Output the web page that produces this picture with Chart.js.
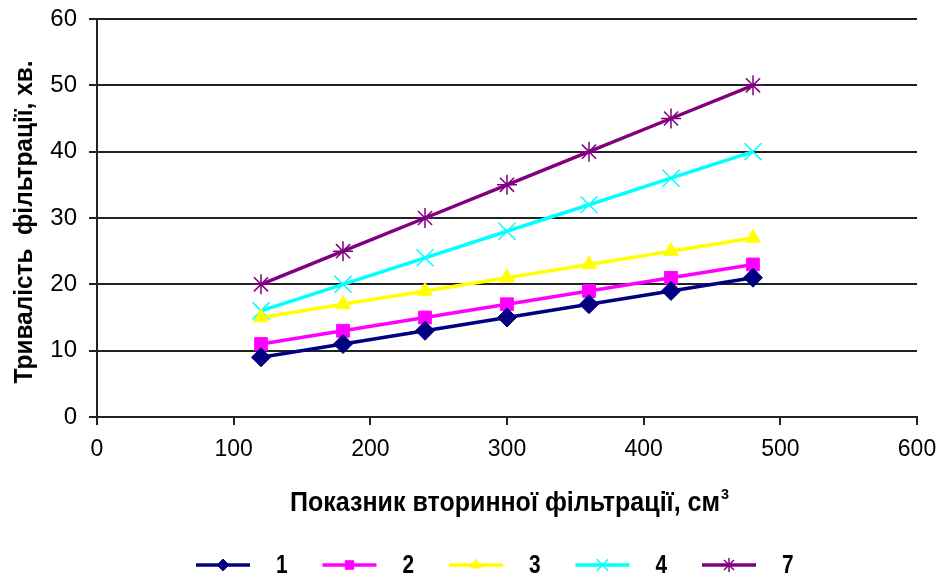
<!DOCTYPE html>
<html>
<head>
<meta charset="utf-8">
<script src="https://cdn.jsdelivr.net/npm/chart.js@4.4.1/dist/chart.umd.min.js"></script>
<style>
  html, body { margin: 0; padding: 0; background: #fff; }
  #wrap { width: 940px; height: 578px; position: relative; }
</style>
</head>
<body>
<div id="wrap"><canvas id="filterChart"></canvas></div>
<script>
// data
const xValues = [120, 180, 240, 300, 360, 420, 480];
const series1 = [9, 11, 13, 15, 17, 19, 21];
const series2 = [11, 13, 15, 17, 19, 21, 23];
const series3 = [15, 17, 19, 21, 23, 25, 27];
const series4 = [16, 20, 24, 28, 32, 36, 40];
const series7 = [20, 25, 30, 35, 40, 45, 50];
const seriesNames = ['1', '2', '3', '4', '7'];
const xTickValues = [0, 100, 200, 300, 400, 500, 600];
const yTickValues = [0, 10, 20, 30, 40, 50, 60];

const yTitle = 'Тривалість  фільтрації, хв.';
const xTitle = 'Показник вторинної фільтрації, см';

const styles = [
    { color: '#000080', point: 'rectRot', radius: 9.5, legendRadius: 6, bw: 1 },
    { color: '#FF00FF', point: 'rect', radius: 9, legendRadius: 6, bw: 1 },
    { color: '#FFFF00', point: 'triangle', radius: 8.5, legendRadius: 6, bw: 1 },
    { color: '#00FFFF', point: 'crossRot', radius: 12, legendRadius: 8, bw: 1.5 },
    { color: '#800080', point: 'star', radius: 10, legendRadius: 7, bw: 1.5 }
];

function toPoints(ys) {
    return xValues.map((x, i) => ({ x: x, y: ys[i] }));
}

const allSeries = [series1, series2, series3, series4, series7];

const datasets = allSeries.map((ys, i) => ({
    label: seriesNames[i],
    data: toPoints(ys),
    borderColor: styles[i].color,
    backgroundColor: styles[i].color,
    pointBackgroundColor: styles[i].color,
    pointBorderColor: styles[i].color,
    pointStyle: styles[i].point,
    pointRadius: styles[i].radius,
    pointBorderWidth: styles[i].bw,
    borderWidth: 3.5,
    tension: 0
}));

function drawFitted(ctx, text, width) {
    const w = ctx.measureText(text).width;
    ctx.scale(width / w, 1);
    ctx.fillText(text, 0, 0);
}

// axis titles and legend drawn by hand (legend needs line + marker)
const extrasPlugin = {
    id: 'extras',
    afterDraw(chart) {
        const ctx = chart.ctx;
        ctx.save();
        ctx.fillStyle = '#000';

        // y title
        ctx.save();
        ctx.font = 'bold 26px "Liberation Sans", Arial, sans-serif';
        ctx.textAlign = 'center';
        ctx.textBaseline = 'middle';
        ctx.translate(25, 222);
        ctx.rotate(-Math.PI / 2);
        drawFitted(ctx, yTitle, 323);
        ctx.restore();

        // x title with superscript
        ctx.save();
        ctx.font = 'bold 27px "Liberation Sans", Arial, sans-serif';
        ctx.textAlign = 'left';
        ctx.textBaseline = 'alphabetic';
        ctx.translate(290, 511);
        drawFitted(ctx, xTitle, 430);
        ctx.restore();
        ctx.save();
        ctx.font = 'bold 15px "Liberation Sans", Arial, sans-serif';
        ctx.textAlign = 'left';
        ctx.textBaseline = 'alphabetic';
        ctx.translate(721, 499);
        drawFitted(ctx, '3', 8);
        ctx.restore();

        // legend
        const legendY = 565;
        seriesNames.forEach((name, i) => {
            const x0 = 196 + i * 126.5;
            const st = styles[i];
            ctx.save();
            ctx.strokeStyle = st.color;
            ctx.lineWidth = 3.5;
            ctx.beginPath();
            ctx.moveTo(x0, legendY);
            ctx.lineTo(x0 + 54, legendY);
            ctx.stroke();
            ctx.fillStyle = st.color;
            ctx.lineWidth = st.bw;
            Chart.helpers.drawPoint(ctx, {
                pointStyle: st.point,
                radius: st.legendRadius,
                borderWidth: st.bw,
                rotation: 0
            }, x0 + 27, legendY);
            ctx.restore();

            ctx.save();
            ctx.fillStyle = '#000';
            ctx.font = 'bold 26px "Liberation Sans", Arial, sans-serif';
            ctx.textAlign = 'left';
            ctx.textBaseline = 'middle';
            ctx.translate(x0 + 80, legendY + 1);
            ctx.scale(0.8, 1);
            ctx.fillText(name, 0, 0);
            ctx.restore();
        });

        ctx.restore();
    }
};

const ctx = document.getElementById('filterChart').getContext('2d');
const filterChart = new Chart(ctx, {
    type: 'line',
    data: { datasets: datasets },
    plugins: [extrasPlugin],
    options: {
        responsive: true,
        maintainAspectRatio: false,
        animation: false,
        layout: { padding: { top: 19, right: 23, left: 0, bottom: 0 } },
        plugins: {
            legend: { display: false },
            tooltip: { enabled: false }
        },
        scales: {
            x: {
                type: 'linear',
                min: 0,
                max: 600,
                afterFit(scale) {
                    scale.height = 161;
                    scale.paddingLeft = 0;
                    scale.paddingRight = 0;
                },
                afterBuildTicks(scale) { scale.ticks = xTickValues.map(v => ({ value: v })); },
                ticks: {
                    color: '#000',
                    font: { family: '"Liberation Sans", Arial, sans-serif', size: 23 },
                    padding: 11,
                    maxRotation: 0
                },
                grid: {
                    drawOnChartArea: false,
                    drawTicks: true,
                    tickLength: 8,
                    color: '#222',
                    lineWidth: 2
                },
                border: { color: '#222', width: 2 }
            },
            y: {
                min: 0,
                max: 60,
                afterFit(scale) {
                    scale.width = 97;
                    scale.paddingTop = 0;
                    scale.paddingBottom = 0;
                },
                afterBuildTicks(scale) { scale.ticks = yTickValues.map(v => ({ value: v })); },
                ticks: {
                    color: '#000',
                    font: { family: '"Liberation Sans", Arial, sans-serif', size: 24 },
                    padding: 12
                },
                grid: {
                    color: '#222',
                    lineWidth: 2,
                    tickLength: 8
                },
                border: { color: '#222', width: 2 }
            }
        }
    }
});
</script>
</body>
</html>
